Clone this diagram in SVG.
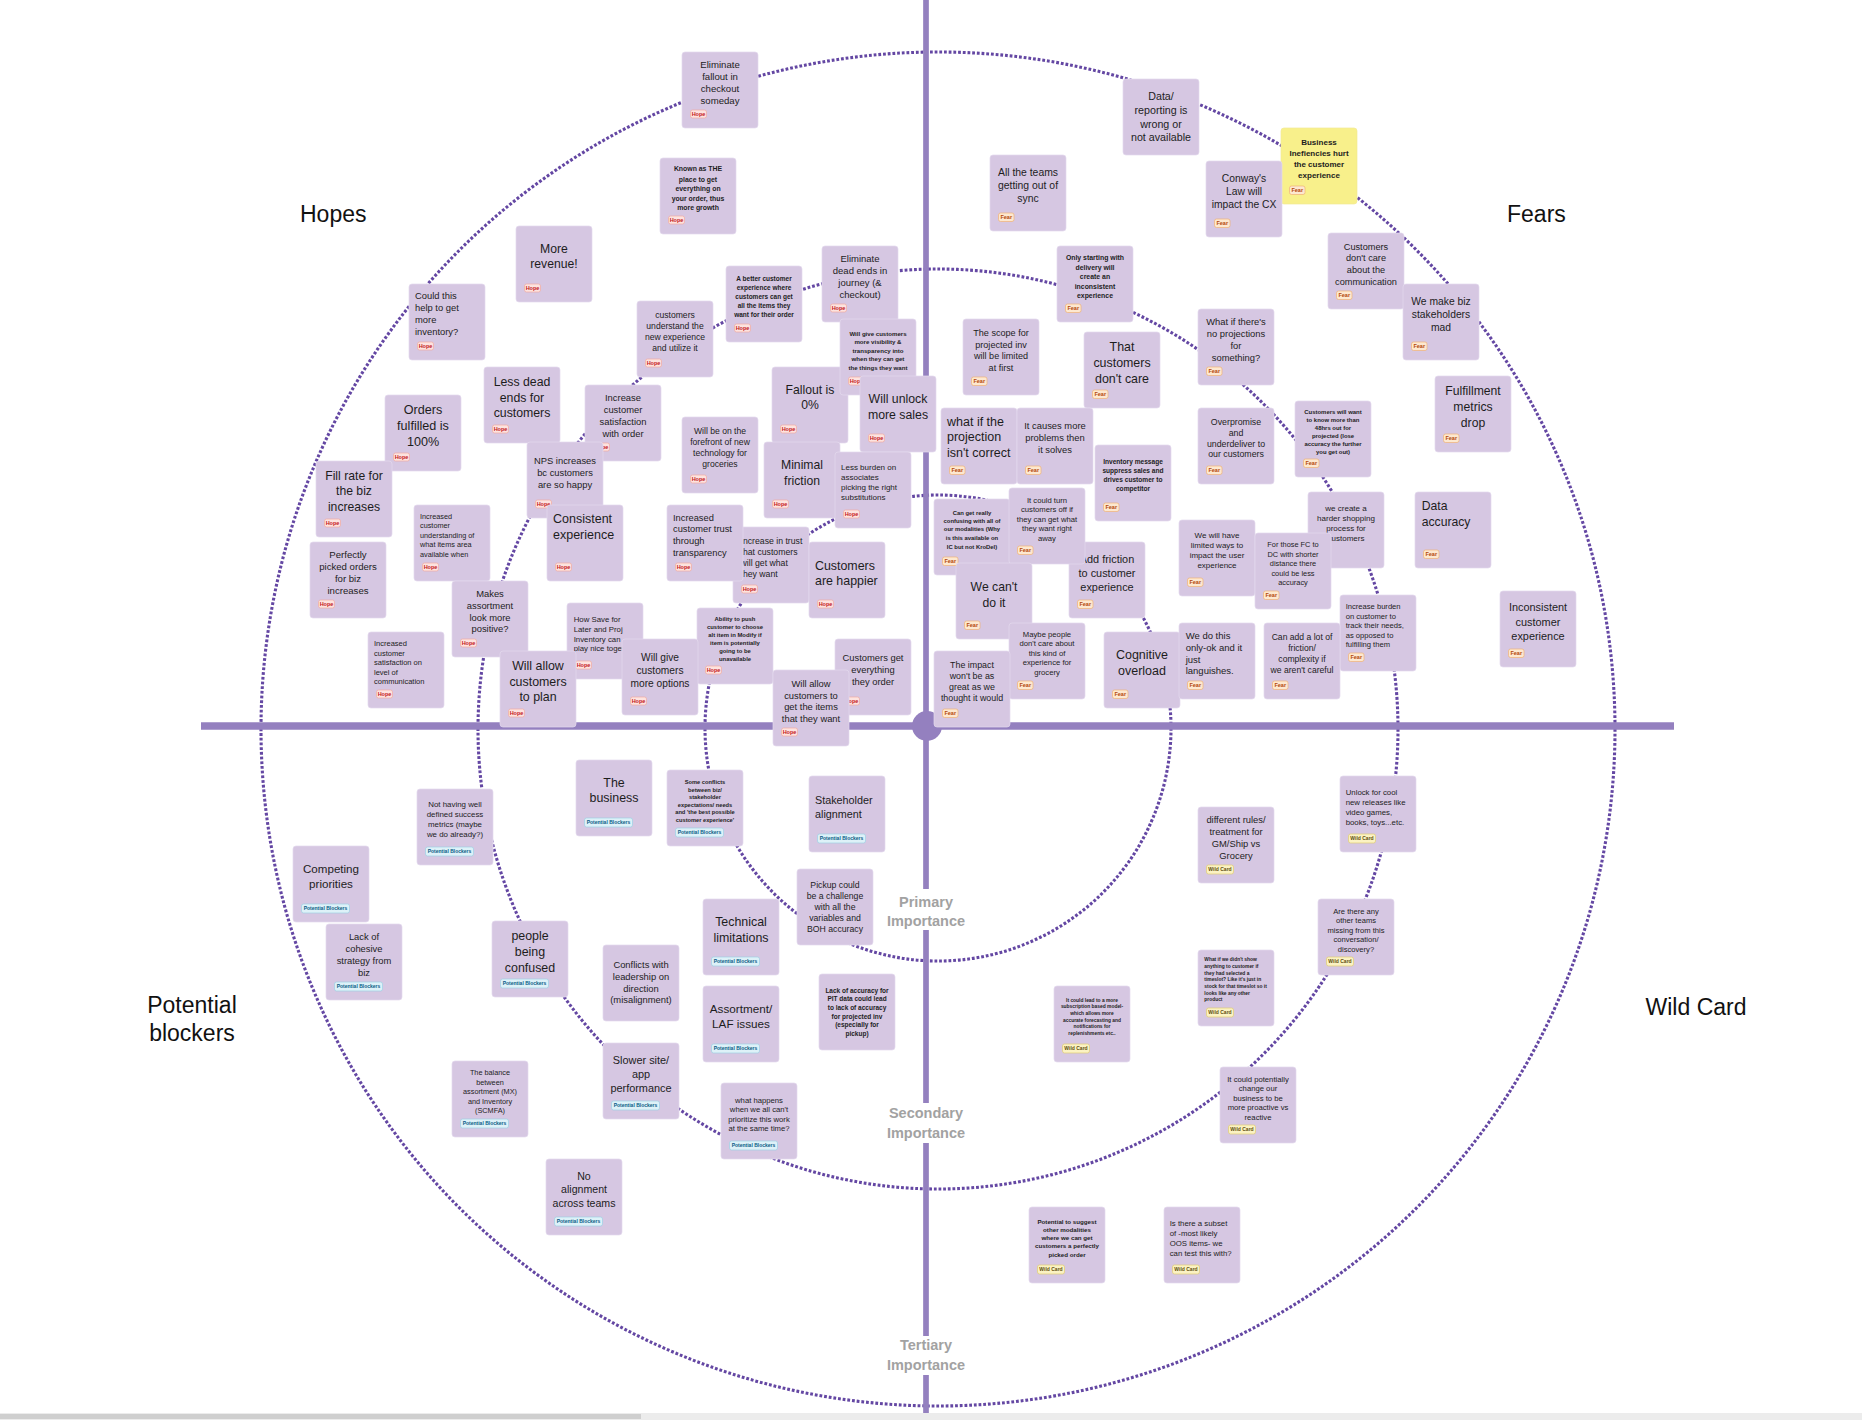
<svg xmlns="http://www.w3.org/2000/svg" width="1862" height="1420" viewBox="0 0 1862 1420">
<style>
.dc{fill:none;stroke:#6447a3;stroke-width:3.1;stroke-dasharray:2.8 1.9}
.ax{stroke:#9480bf;fill:none}
.nb{fill:#d6c7e2;stroke:#e4daee;stroke-width:.7}
.ny{fill:#f8f08b;stroke:#f2ea95;stroke-width:.7}
.t{font-family:"Liberation Sans",Arial,sans-serif;fill:#1d1d1d}
.c{text-anchor:middle}
.b{font-weight:bold}
.q{font-family:"Liberation Sans",Arial,sans-serif;font-size:23px;fill:#111}
.imp{font-family:"Liberation Sans",Arial,sans-serif;font-size:14.5px;font-weight:bold;fill:#a2a2a2;text-anchor:middle}
.tg text{font-family:"Liberation Sans",Arial,sans-serif;font-weight:bold;text-anchor:middle}
.hp rect{fill:#fde3df;stroke:#f0aaa0;stroke-width:.7}
.hp text{fill:#c4161c;font-size:5.5px}
.fr rect{fill:#fde8cf;stroke:#efb276;stroke-width:.7}
.fr text{fill:#b3470c;font-size:5.5px}
.pb rect{fill:#ddf1f8;stroke:#9dd0e4;stroke-width:.7}
.pb text{fill:#0b5d86;font-size:5px}
.wc rect{fill:#fbf2c2;stroke:#e0cd72;stroke-width:.7}
.wc text{fill:#5e4c0c;font-size:5px}
</style>
<rect width="1862" height="1420" fill="#ffffff"/>
<g id="rings">
<circle class="dc" cx="938" cy="729" r="677"/>
<circle class="dc" cx="938" cy="729" r="460"/>
<circle class="dc" cx="938" cy="728" r="233"/>
</g>
<g id="axes">
<line class="ax" x1="201" y1="726" x2="1674" y2="726" stroke-width="7.5"/>
<line class="ax" x1="926" y1="0" x2="926" y2="889" stroke-width="5.7"/>
<line class="ax" x1="926" y1="930" x2="926" y2="1103" stroke-width="5.7"/>
<line class="ax" x1="926" y1="1143" x2="926" y2="1336" stroke-width="5.7"/>
<line class="ax" x1="926" y1="1375" x2="926" y2="1413" stroke-width="5.7"/>
<circle cx="927" cy="726" r="15" fill="#9480bf"/>
</g>
<g id="labels">
<text class="q" x="300" y="222">Hopes</text>
<text class="q" x="1507" y="222">Fears</text>
<text class="q" x="192" y="1013" text-anchor="middle">Potential</text>
<text class="q" x="192" y="1041" text-anchor="middle">blockers</text>
<text class="q" x="1696" y="1015" text-anchor="middle">Wild Card</text>
<text class="imp" x="926" y="907">Primary</text><text class="imp" x="926" y="926">Importance</text>
<text class="imp" x="926" y="1118">Secondary</text><text class="imp" x="926" y="1138">Importance</text>
<text class="imp" x="926" y="1350">Tertiary</text><text class="imp" x="926" y="1370">Importance</text>
</g>
<g id="notes">
<g id="n08" transform="translate(682,52)"><rect class="nb" width="76" height="76" rx="3"/><text class="t c" font-size="9.6"><tspan x="38" y="16">Eliminate</tspan><tspan x="38" y="28">fallout in</tspan><tspan x="38" y="40">checkout</tspan><tspan x="38" y="52">someday</tspan></text><g class="tg hp" transform="translate(8.5,58)"><rect width="16" height="8" rx="2"/><text x="8" y="5.9">Hope</text></g></g>
<g id="n09" transform="translate(660,158)"><rect class="nb" width="76" height="76" rx="3"/><text class="t c b" font-size="6.9"><tspan x="38" y="13.4">Known as THE</tspan><tspan x="38" y="23.7">place to get</tspan><tspan x="38" y="33.1">everything on</tspan><tspan x="38" y="42.7">your order, thus</tspan><tspan x="38" y="51.7">more growth</tspan></text><g class="tg hp" transform="translate(8.5,58)"><rect width="16" height="8" rx="2"/><text x="8" y="5.9">Hope</text></g></g>
<g id="n01" transform="translate(516,226)"><rect class="nb" width="76" height="76" rx="3"/><text class="t c" font-size="12.2"><tspan x="38" y="27">More</tspan><tspan x="38" y="42">revenue!</tspan></text><g class="tg hp" transform="translate(8.5,58)"><rect width="16" height="8" rx="2"/><text x="8" y="5.9">Hope</text></g></g>
<g id="n02" transform="translate(409,284)"><rect class="nb" width="76" height="76" rx="3"/><text class="t" font-size="9.4"><tspan x="6" y="15">Could this</tspan><tspan x="6" y="27.3">help to get</tspan><tspan x="6" y="39.3">more</tspan><tspan x="6" y="51.3">inventory?</tspan></text><g class="tg hp" transform="translate(8.5,58)"><rect width="16" height="8" rx="2"/><text x="8" y="5.9">Hope</text></g></g>
<g id="n11" transform="translate(726,266)"><rect class="nb" width="76" height="76" rx="3"/><text class="t c b" font-size="6.5"><tspan x="38" y="15">A better customer</tspan><tspan x="38" y="24">experience where</tspan><tspan x="38" y="33">customers can get</tspan><tspan x="38" y="42">all the items they</tspan><tspan x="38" y="51">want for their order</tspan></text><g class="tg hp" transform="translate(8.5,58)"><rect width="16" height="8" rx="2"/><text x="8" y="5.9">Hope</text></g></g>
<g id="n10" transform="translate(822,246)"><rect class="nb" width="76" height="76" rx="3"/><text class="t c" font-size="9.5"><tspan x="38" y="16">Eliminate</tspan><tspan x="38" y="28">dead ends in</tspan><tspan x="38" y="40">journey (&amp;</tspan><tspan x="38" y="52">checkout)</tspan></text><g class="tg hp" transform="translate(8.5,58)"><rect width="16" height="8" rx="2"/><text x="8" y="5.9">Hope</text></g></g>
<g id="n12" transform="translate(637,301)"><rect class="nb" width="76" height="76" rx="3"/><text class="t c" font-size="8.6"><tspan x="38" y="17">customers</tspan><tspan x="38" y="28">understand the</tspan><tspan x="38" y="39">new experience</tspan><tspan x="38" y="50">and utilize it</tspan></text><g class="tg hp" transform="translate(8.5,58)"><rect width="16" height="8" rx="2"/><text x="8" y="5.9">Hope</text></g></g>
<g id="n14" transform="translate(772,367)"><rect class="nb" width="76" height="76" rx="3"/><text class="t c" font-size="12.2"><tspan x="38" y="27.3">Fallout is</tspan><tspan x="38" y="42">0%</tspan></text><g class="tg hp" transform="translate(8.5,58)"><rect width="16" height="8" rx="2"/><text x="8" y="5.9">Hope</text></g></g>
<g id="n13" transform="translate(840,319)"><rect class="nb" width="76" height="76" rx="3"/><text class="t c b" font-size="6.1"><tspan x="38" y="16.8">Will give customers</tspan><tspan x="38" y="25.1">more visibility &amp;</tspan><tspan x="38" y="33.8">transparency into</tspan><tspan x="38" y="42.1">when they can get</tspan><tspan x="38" y="50.8">the things they want</tspan></text><g class="tg hp" transform="translate(8.5,58)"><rect width="16" height="8" rx="2"/><text x="8" y="5.9">Hope</text></g></g>
<g id="n15" transform="translate(860,376)"><rect class="nb" width="76" height="76" rx="3"/><text class="t c" font-size="12.3"><tspan x="38" y="27.3">Will unlock</tspan><tspan x="38" y="43">more sales</tspan></text><g class="tg hp" transform="translate(8.5,58)"><rect width="16" height="8" rx="2"/><text x="8" y="5.9">Hope</text></g></g>
<g id="n03" transform="translate(484,367)"><rect class="nb" width="76" height="76" rx="3"/><text class="t c" font-size="12.3"><tspan x="38" y="19">Less dead</tspan><tspan x="38" y="34.6">ends for</tspan><tspan x="38" y="50">customers</tspan></text><g class="tg hp" transform="translate(8.5,58)"><rect width="16" height="8" rx="2"/><text x="8" y="5.9">Hope</text></g></g>
<g id="n06" transform="translate(585,385)"><rect class="nb" width="76" height="76" rx="3"/><text class="t c" font-size="9.4"><tspan x="38" y="16">Increase</tspan><tspan x="38" y="28">customer</tspan><tspan x="38" y="40">satisfaction</tspan><tspan x="38" y="52">with order</tspan></text><g class="tg hp" transform="translate(8.5,58)"><rect width="16" height="8" rx="2"/><text x="8" y="5.9">Hope</text></g></g>
<g id="n04" transform="translate(385,395)"><rect class="nb" width="76" height="76" rx="3"/><text class="t c" font-size="12.6"><tspan x="38" y="18.7">Orders</tspan><tspan x="38" y="35">fulfilled is</tspan><tspan x="38" y="50.6">100%</tspan></text><g class="tg hp" transform="translate(8.5,58)"><rect width="16" height="8" rx="2"/><text x="8" y="5.9">Hope</text></g></g>
<g id="n05" transform="translate(316,461)"><rect class="nb" width="76" height="76" rx="3"/><text class="t c" font-size="12.2"><tspan x="38" y="19">Fill rate for</tspan><tspan x="38" y="34">the biz</tspan><tspan x="38" y="50">increases</tspan></text><g class="tg hp" transform="translate(8.5,58)"><rect width="16" height="8" rx="2"/><text x="8" y="5.9">Hope</text></g></g>
<g id="n07" transform="translate(527,442)"><rect class="nb" width="76" height="76" rx="3"/><text class="t c" font-size="9.4"><tspan x="38" y="22">NPS increases</tspan><tspan x="38" y="34">bc customers</tspan><tspan x="38" y="46.3">are so happy</tspan></text><g class="tg hp" transform="translate(8.5,58)"><rect width="16" height="8" rx="2"/><text x="8" y="5.9">Hope</text></g></g>
<g id="n16" transform="translate(682,417)"><rect class="nb" width="76" height="76" rx="3"/><text class="t c" font-size="8.6"><tspan x="38" y="17">Will be on the</tspan><tspan x="38" y="28">forefront of new</tspan><tspan x="38" y="39">technology for</tspan><tspan x="38" y="50">groceries</tspan></text><g class="tg hp" transform="translate(8.5,58)"><rect width="16" height="8" rx="2"/><text x="8" y="5.9">Hope</text></g></g>
<g id="n17" transform="translate(764,442)"><rect class="nb" width="76" height="76" rx="3"/><text class="t c" font-size="12.2"><tspan x="38" y="27.3">Minimal</tspan><tspan x="38" y="43">friction</tspan></text><g class="tg hp" transform="translate(8.5,58)"><rect width="16" height="8" rx="2"/><text x="8" y="5.9">Hope</text></g></g>
<g id="n18" transform="translate(835,452)"><rect class="nb" width="76" height="76" rx="3"/><text class="t" font-size="8"><tspan x="6" y="18.1">Less burden on</tspan><tspan x="6" y="28.1">associates</tspan><tspan x="6" y="38.1">picking the right</tspan><tspan x="6" y="48.1">substitutions</tspan></text><g class="tg hp" transform="translate(8.5,58)"><rect width="16" height="8" rx="2"/><text x="8" y="5.9">Hope</text></g></g>
<g id="n36" transform="translate(414,505)"><rect class="nb" width="76" height="76" rx="3"/><text class="t" font-size="7.3"><tspan x="6" y="13.6">Increased</tspan><tspan x="6" y="23.3">customer</tspan><tspan x="6" y="32.6">understanding of</tspan><tspan x="6" y="41.9">what items area</tspan><tspan x="6" y="51.6">available when</tspan></text><g class="tg hp" transform="translate(8.5,58)"><rect width="16" height="8" rx="2"/><text x="8" y="5.9">Hope</text></g></g>
<g id="n37" transform="translate(547,505)"><rect class="nb" width="76" height="76" rx="3"/><text class="t" font-size="12.5"><tspan x="6" y="18.1">Consistent</tspan><tspan x="6" y="34.1">experience</tspan></text><g class="tg hp" transform="translate(8.5,58)"><rect width="16" height="8" rx="2"/><text x="8" y="5.9">Hope</text></g></g>
<g id="n46" transform="translate(733,527)"><rect class="nb" width="76" height="76" rx="3"/><text class="t" font-size="8.7"><tspan x="7.5" y="16.7">Increase in trust</tspan><tspan x="7.5" y="28">that customers</tspan><tspan x="7.5" y="39.3">will get what</tspan><tspan x="7.5" y="50">they want</tspan></text><g class="tg hp" transform="translate(8.5,58)"><rect width="16" height="8" rx="2"/><text x="8" y="5.9">Hope</text></g></g>
<g id="n45" transform="translate(667,505)"><rect class="nb" width="76" height="76" rx="3"/><text class="t" font-size="9.3"><tspan x="6" y="16">Increased</tspan><tspan x="6" y="27.3">customer trust</tspan><tspan x="6" y="39.3">through</tspan><tspan x="6" y="51.3">transparency</tspan></text><g class="tg hp" transform="translate(8.5,58)"><rect width="16" height="8" rx="2"/><text x="8" y="5.9">Hope</text></g></g>
<g id="n47" transform="translate(809,542)"><rect class="nb" width="76" height="76" rx="3"/><text class="t" font-size="12.4"><tspan x="6" y="28">Customers</tspan><tspan x="6" y="43">are happier</tspan></text><g class="tg hp" transform="translate(8.5,58)"><rect width="16" height="8" rx="2"/><text x="8" y="5.9">Hope</text></g></g>
<g id="n35" transform="translate(310,542)"><rect class="nb" width="76" height="76" rx="3"/><text class="t c" font-size="9.6"><tspan x="38" y="16">Perfectly</tspan><tspan x="38" y="28">picked orders</tspan><tspan x="38" y="40">for biz</tspan><tspan x="38" y="52">increases</tspan></text><g class="tg hp" transform="translate(8.5,58)"><rect width="16" height="8" rx="2"/><text x="8" y="5.9">Hope</text></g></g>
<g id="n38" transform="translate(452,581)"><rect class="nb" width="76" height="76" rx="3"/><text class="t c" font-size="9.4"><tspan x="38" y="16">Makes</tspan><tspan x="38" y="28">assortment</tspan><tspan x="38" y="40">look more</tspan><tspan x="38" y="51.3">positive?</tspan></text><g class="tg hp" transform="translate(8.5,58)"><rect width="16" height="8" rx="2"/><text x="8" y="5.9">Hope</text></g></g>
<g id="n40" transform="translate(567,603)"><rect class="nb" width="76" height="76" rx="3"/><text class="t" font-size="7.8"><tspan x="6.7" y="18.7">How Save for</tspan><tspan x="6.7" y="28.7">Later and Proj</tspan><tspan x="6.7" y="38.7">Inventory can</tspan><tspan x="6.7" y="48">play nice together</tspan></text><g class="tg hp" transform="translate(8.5,58)"><rect width="16" height="8" rx="2"/><text x="8" y="5.9">Hope</text></g></g>
<g id="n48" transform="translate(697,608)"><rect class="nb" width="76" height="76" rx="3"/><text class="t c b" font-size="5.9"><tspan x="38" y="13.1">Ability to push</tspan><tspan x="38" y="21.1">customer to choose</tspan><tspan x="38" y="29.1">alt item in Modify if</tspan><tspan x="38" y="37.1">item is potentially</tspan><tspan x="38" y="45.1">going to be</tspan><tspan x="38" y="53.1">unavailable</tspan></text><g class="tg hp" transform="translate(8.5,58)"><rect width="16" height="8" rx="2"/><text x="8" y="5.9">Hope</text></g></g>
<g id="n39" transform="translate(368,632)"><rect class="nb" width="76" height="76" rx="3"/><text class="t" font-size="7.5"><tspan x="6" y="13.6">Increased</tspan><tspan x="6" y="23.6">customer</tspan><tspan x="6" y="32.9">satisfaction on</tspan><tspan x="6" y="42.6">level of</tspan><tspan x="6" y="51.9">communication</tspan></text><g class="tg hp" transform="translate(8.5,58)"><rect width="16" height="8" rx="2"/><text x="8" y="5.9">Hope</text></g></g>
<g id="n41" transform="translate(500,651)"><rect class="nb" width="76" height="76" rx="3"/><text class="t c" font-size="12.4"><tspan x="38" y="19">Will allow</tspan><tspan x="38" y="35">customers</tspan><tspan x="38" y="50">to plan</tspan></text><g class="tg hp" transform="translate(8.5,58)"><rect width="16" height="8" rx="2"/><text x="8" y="5.9">Hope</text></g></g>
<g id="n49" transform="translate(622,639)"><rect class="nb" width="76" height="76" rx="3"/><text class="t c" font-size="10.2"><tspan x="38" y="21.6">Will give</tspan><tspan x="38" y="34.6">customers</tspan><tspan x="38" y="47.6">more options</tspan></text><g class="tg hp" transform="translate(8.5,58)"><rect width="16" height="8" rx="2"/><text x="8" y="5.9">Hope</text></g></g>
<g id="n50" transform="translate(835,639)"><rect class="nb" width="76" height="76" rx="3"/><text class="t c" font-size="9.4"><tspan x="38" y="22">Customers get</tspan><tspan x="38" y="34.3">everything</tspan><tspan x="38" y="46">they order</tspan></text><g class="tg hp" transform="translate(8.5,58)"><rect width="16" height="8" rx="2"/><text x="8" y="5.9">Hope</text></g></g>
<g id="n51" transform="translate(773,670)"><rect class="nb" width="76" height="76" rx="3"/><text class="t c" font-size="9.4"><tspan x="38" y="17">Will allow</tspan><tspan x="38" y="29.3">customers to</tspan><tspan x="38" y="40.3">get the items</tspan><tspan x="38" y="52">that they want</tspan></text><g class="tg hp" transform="translate(8.5,58)"><rect width="16" height="8" rx="2"/><text x="8" y="5.9">Hope</text></g></g>

<g id="n19" transform="translate(1123,79)"><rect class="nb" width="76" height="76" rx="3"/><text class="t c" font-size="10.7"><tspan x="38" y="20.7">Data/</tspan><tspan x="38" y="35">reporting is</tspan><tspan x="38" y="49">wrong or</tspan><tspan x="38" y="61.7">not available</tspan></text></g>
<g id="n20" transform="translate(990,155)"><rect class="nb" width="76" height="76" rx="3"/><text class="t c" font-size="10.4"><tspan x="38" y="21.3">All the teams</tspan><tspan x="38" y="34.3">getting out of</tspan><tspan x="38" y="47.3">sync</tspan></text><g class="tg fr" transform="translate(8.5,58)"><rect width="15.5" height="8.5" rx="2"/><text x="7.75" y="6.2">Fear</text></g></g>
<g id="n30" transform="translate(1281,128)"><rect class="ny" width="76" height="76" rx="3"/><text class="t c b" font-size="8"><tspan x="38" y="16.8">Business</tspan><tspan x="38" y="27.8">Inefiencies hurt</tspan><tspan x="38" y="38.8">the customer</tspan><tspan x="38" y="49.8">experience</tspan></text><g class="tg fr" transform="translate(8.5,58)"><rect width="15.5" height="8.5" rx="2"/><text x="7.75" y="6.2">Fear</text></g></g>
<g id="n21" transform="translate(1206,161)"><rect class="nb" width="76" height="76" rx="3"/><text class="t c" font-size="10.3"><tspan x="38" y="21.3">Conway's</tspan><tspan x="38" y="34.3">Law will</tspan><tspan x="38" y="47.3">impact the CX</tspan></text><g class="tg fr" transform="translate(8.5,58)"><rect width="15.5" height="8.5" rx="2"/><text x="7.75" y="6.2">Fear</text></g></g>
<g id="n31" transform="translate(1328,233)"><rect class="nb" width="76" height="76" rx="3"/><text class="t c" font-size="9.2"><tspan x="38" y="16.9">Customers</tspan><tspan x="38" y="27.9">don't care</tspan><tspan x="38" y="39.9">about the</tspan><tspan x="38" y="51.9">communication</tspan></text><g class="tg fr" transform="translate(8.5,58)"><rect width="15.5" height="8.5" rx="2"/><text x="7.75" y="6.2">Fear</text></g></g>
<g id="n22" transform="translate(1057,246)"><rect class="nb" width="76" height="76" rx="3"/><text class="t c b" font-size="6.9"><tspan x="38" y="13.7">Only starting with</tspan><tspan x="38" y="23.7">delivery will</tspan><tspan x="38" y="32.7">create an</tspan><tspan x="38" y="42.7">inconsistent</tspan><tspan x="38" y="51.7">experience</tspan></text><g class="tg fr" transform="translate(8.5,58)"><rect width="15.5" height="8.5" rx="2"/><text x="7.75" y="6.2">Fear</text></g></g>
<g id="n32" transform="translate(1403,284)"><rect class="nb" width="76" height="76" rx="3"/><text class="t c" font-size="10.3"><tspan x="38" y="20.9">We make biz</tspan><tspan x="38" y="34.3">stakeholders</tspan><tspan x="38" y="47.3">mad</tspan></text><g class="tg fr" transform="translate(8.5,58)"><rect width="15.5" height="8.5" rx="2"/><text x="7.75" y="6.2">Fear</text></g></g>
<g id="n23" transform="translate(963,319)"><rect class="nb" width="76" height="76" rx="3"/><text class="t c" font-size="9.1"><tspan x="38" y="16.9">The scope for</tspan><tspan x="38" y="28.9">projected inv</tspan><tspan x="38" y="39.9">will be limited</tspan><tspan x="38" y="51.9">at first</tspan></text><g class="tg fr" transform="translate(8.5,58)"><rect width="15.5" height="8.5" rx="2"/><text x="7.75" y="6.2">Fear</text></g></g>
<g id="n24" transform="translate(1084,332)"><rect class="nb" width="76" height="76" rx="3"/><text class="t c" font-size="12.4"><tspan x="38" y="19">That</tspan><tspan x="38" y="35">customers</tspan><tspan x="38" y="51">don't care</tspan></text><g class="tg fr" transform="translate(8.5,58)"><rect width="15.5" height="8.5" rx="2"/><text x="7.75" y="6.2">Fear</text></g></g>
<g id="n25" transform="translate(1198,309)"><rect class="nb" width="76" height="76" rx="3"/><text class="t c" font-size="9.4"><tspan x="38" y="16">What if there's</tspan><tspan x="38" y="28">no projections</tspan><tspan x="38" y="40">for</tspan><tspan x="38" y="52">something?</tspan></text><g class="tg fr" transform="translate(8.5,58)"><rect width="15.5" height="8.5" rx="2"/><text x="7.75" y="6.2">Fear</text></g></g>
<g id="n33" transform="translate(1435,376)"><rect class="nb" width="76" height="76" rx="3"/><text class="t c" font-size="12.2"><tspan x="38" y="19">Fulfillment</tspan><tspan x="38" y="35">metrics</tspan><tspan x="38" y="51">drop</tspan></text><g class="tg fr" transform="translate(8.5,58)"><rect width="15.5" height="8.5" rx="2"/><text x="7.75" y="6.2">Fear</text></g></g>
<g id="n26" transform="translate(941,408)"><rect class="nb" width="76" height="76" rx="3"/><text class="t" font-size="12.5"><tspan x="6" y="18.1">what if the</tspan><tspan x="6" y="33.4">projection</tspan><tspan x="6" y="49.1">isn't correct</tspan></text><g class="tg fr" transform="translate(8.5,58)"><rect width="15.5" height="8.5" rx="2"/><text x="7.75" y="6.2">Fear</text></g></g>
<g id="n27" transform="translate(1017,408)"><rect class="nb" width="76" height="76" rx="3"/><text class="t c" font-size="9.4"><tspan x="38" y="21">It causes more</tspan><tspan x="38" y="33">problems then</tspan><tspan x="38" y="45">it solves</tspan></text><g class="tg fr" transform="translate(8.5,58)"><rect width="15.5" height="8.5" rx="2"/><text x="7.75" y="6.2">Fear</text></g></g>
<g id="n29" transform="translate(1198,408)"><rect class="nb" width="76" height="76" rx="3"/><text class="t c" font-size="8.8"><tspan x="38" y="17">Overpromise</tspan><tspan x="38" y="28">and</tspan><tspan x="38" y="39">underdeliver to</tspan><tspan x="38" y="49">our customers</tspan></text><g class="tg fr" transform="translate(8.5,58)"><rect width="15.5" height="8.5" rx="2"/><text x="7.75" y="6.2">Fear</text></g></g>
<g id="n34" transform="translate(1295,401)"><rect class="nb" width="76" height="76" rx="3"/><text class="t c b" font-size="5.95"><tspan x="38" y="12.8">Customers will want</tspan><tspan x="38" y="20.8">to know more than</tspan><tspan x="38" y="28.8">48hrs out for</tspan><tspan x="38" y="36.8">projected (lose</tspan><tspan x="38" y="45.1">accuracy the further</tspan><tspan x="38" y="53.1">you get out)</tspan></text><g class="tg fr" transform="translate(8.5,58)"><rect width="15.5" height="8.5" rx="2"/><text x="7.75" y="6.2">Fear</text></g></g>
<g id="n28" transform="translate(1095,445)"><rect class="nb" width="76" height="76" rx="3"/><text class="t c b" font-size="6.6"><tspan x="38" y="19">Inventory message</tspan><tspan x="38" y="28">suppress sales and</tspan><tspan x="38" y="37">drives customer to</tspan><tspan x="38" y="46">competitor</tspan></text><g class="tg fr" transform="translate(8.5,58)"><rect width="15.5" height="8.5" rx="2"/><text x="7.75" y="6.2">Fear</text></g></g>
<g id="n55" transform="translate(934,499)"><rect class="nb" width="76" height="76" rx="3"/><text class="t c b" font-size="5.9"><tspan x="38" y="15.8">Can get really</tspan><tspan x="38" y="23.8">confusing with all of</tspan><tspan x="38" y="32.4">our modalities (Why</tspan><tspan x="38" y="40.8">is this available on</tspan><tspan x="38" y="49.8">IC but not KroDel)</tspan></text><g class="tg fr" transform="translate(8.5,58)"><rect width="15.5" height="8.5" rx="2"/><text x="7.75" y="6.2">Fear</text></g></g>
<g id="n57" transform="translate(1069,542)"><rect class="nb" width="76" height="76" rx="3"/><text class="t c" font-size="10.9"><tspan x="38" y="21.1">Add friction</tspan><tspan x="38" y="35.1">to customer</tspan><tspan x="38" y="49.1">experience</tspan></text><g class="tg fr" transform="translate(8.5,58)"><rect width="15.5" height="8.5" rx="2"/><text x="7.75" y="6.2">Fear</text></g></g>
<g id="n56" transform="translate(1009,488)"><rect class="nb" width="76" height="76" rx="3"/><text class="t c" font-size="7.7"><tspan x="38" y="15">It could turn</tspan><tspan x="38" y="24">customers off if</tspan><tspan x="38" y="34">they can get what</tspan><tspan x="38" y="43.4">they want right</tspan><tspan x="38" y="53.4">away</tspan></text><g class="tg fr" transform="translate(8.5,58)"><rect width="15.5" height="8.5" rx="2"/><text x="7.75" y="6.2">Fear</text></g></g>
<g id="n58" transform="translate(956,563)"><rect class="nb" width="76" height="76" rx="3"/><text class="t c" font-size="12.2"><tspan x="38" y="28">We can't</tspan><tspan x="38" y="44">do it</tspan></text><g class="tg fr" transform="translate(8.5,58)"><rect width="15.5" height="8.5" rx="2"/><text x="7.75" y="6.2">Fear</text></g></g>
<g id="n59" transform="translate(1009,623)"><rect class="nb" width="76" height="76" rx="3"/><text class="t c" font-size="7.7"><tspan x="38" y="14">Maybe people</tspan><tspan x="38" y="23">don't care about</tspan><tspan x="38" y="32.7">this kind of</tspan><tspan x="38" y="42">experience for</tspan><tspan x="38" y="52">grocery</tspan></text><g class="tg fr" transform="translate(8.5,58)"><rect width="15.5" height="8.5" rx="2"/><text x="7.75" y="6.2">Fear</text></g></g>
<g id="n60" transform="translate(934,651)"><rect class="nb" width="76" height="76" rx="3"/><text class="t c" font-size="8.9"><tspan x="38" y="17">The impact</tspan><tspan x="38" y="28">won't be as</tspan><tspan x="38" y="39">great as we</tspan><tspan x="38" y="50">thought it would</tspan></text><g class="tg fr" transform="translate(8.5,58)"><rect width="15.5" height="8.5" rx="2"/><text x="7.75" y="6.2">Fear</text></g></g>
<g id="n61" transform="translate(1104,632)"><rect class="nb" width="76" height="76" rx="3"/><text class="t c" font-size="12.5"><tspan x="38" y="27">Cognitive</tspan><tspan x="38" y="43">overload</tspan></text><g class="tg fr" transform="translate(8.5,58)"><rect width="15.5" height="8.5" rx="2"/><text x="7.75" y="6.2">Fear</text></g></g>
<g id="n62" transform="translate(1179,520)"><rect class="nb" width="76" height="76" rx="3"/><text class="t c" font-size="8"><tspan x="38" y="18.1">We will have</tspan><tspan x="38" y="28.1">limited ways to</tspan><tspan x="38" y="38.1">impact the  user</tspan><tspan x="38" y="48.1">experience</tspan></text><g class="tg fr" transform="translate(8.5,58)"><rect width="15.5" height="8.5" rx="2"/><text x="7.75" y="6.2">Fear</text></g></g>
<g id="n63" transform="translate(1179,623)"><rect class="nb" width="76" height="76" rx="3"/><text class="t" font-size="9.5"><tspan x="6.7" y="16">We do this</tspan><tspan x="6.7" y="28">only-ok and it</tspan><tspan x="6.7" y="40">just</tspan><tspan x="6.7" y="51">languishes.</tspan></text><g class="tg fr" transform="translate(8.5,58)"><rect width="15.5" height="8.5" rx="2"/><text x="7.75" y="6.2">Fear</text></g></g>
<g id="n65" transform="translate(1308,492)"><rect class="nb" width="76" height="76" rx="3"/><text class="t c" font-size="8"><tspan x="38" y="19.1">we create a</tspan><tspan x="38" y="29.1">harder shopping</tspan><tspan x="38" y="39.1">process for</tspan><tspan x="38" y="49.1">customers</tspan></text></g>
<g id="n66" transform="translate(1255,533)"><rect class="nb" width="76" height="76" rx="3"/><text class="t c" font-size="7.4"><tspan x="38" y="13.9">For those FC to</tspan><tspan x="38" y="23.9">DC with shorter</tspan><tspan x="38" y="32.9">distance there</tspan><tspan x="38" y="42.9">could be less</tspan><tspan x="38" y="52.3">accuracy</tspan></text><g class="tg fr" transform="translate(8.5,58)"><rect width="15.5" height="8.5" rx="2"/><text x="7.75" y="6.2">Fear</text></g></g>
<g id="n67" transform="translate(1415,492)"><rect class="nb" width="76" height="76" rx="3"/><text class="t" font-size="12.2"><tspan x="6.7" y="18.3">Data</tspan><tspan x="6.7" y="34.3">accuracy</tspan></text><g class="tg fr" transform="translate(8.5,58)"><rect width="15.5" height="8.5" rx="2"/><text x="7.75" y="6.2">Fear</text></g></g>
<g id="n68" transform="translate(1340,595)"><rect class="nb" width="76" height="76" rx="3"/><text class="t" font-size="7.6"><tspan x="5.7" y="14">Increase burden</tspan><tspan x="5.7" y="24">on customer to</tspan><tspan x="5.7" y="33">track their needs,</tspan><tspan x="5.7" y="43">as opposed to</tspan><tspan x="5.7" y="52">fulfilling them</tspan></text><g class="tg fr" transform="translate(8.5,58)"><rect width="15.5" height="8.5" rx="2"/><text x="7.75" y="6.2">Fear</text></g></g>
<g id="n69" transform="translate(1264,623)"><rect class="nb" width="76" height="76" rx="3"/><text class="t c" font-size="8.6"><tspan x="38" y="17">Can add a lot of</tspan><tspan x="38" y="28">friction/</tspan><tspan x="38" y="39.3">complexity if</tspan><tspan x="38" y="50.3">we aren't careful</tspan></text><g class="tg fr" transform="translate(8.5,58)"><rect width="15.5" height="8.5" rx="2"/><text x="7.75" y="6.2">Fear</text></g></g>
<g id="n70" transform="translate(1500,591)"><rect class="nb" width="76" height="76" rx="3"/><text class="t c" font-size="10.9"><tspan x="38" y="20.1">Inconsistent</tspan><tspan x="38" y="34.5">customer</tspan><tspan x="38" y="48.5">experience</tspan></text><g class="tg fr" transform="translate(8.5,58)"><rect width="15.5" height="8.5" rx="2"/><text x="7.75" y="6.2">Fear</text></g></g>

<g id="n43" transform="translate(576,760)"><rect class="nb" width="76" height="76" rx="3"/><text class="t c" font-size="12.4"><tspan x="38" y="26.6">The</tspan><tspan x="38" y="42">business</tspan></text><g class="tg pb" transform="translate(8.5,58)"><rect width="48" height="9" rx="2"/><text x="24" y="6.4">Potential Blockers</text></g></g>
<g id="n52" transform="translate(667,770)"><rect class="nb" width="76" height="76" rx="3"/><text class="t c b" font-size="5.7"><tspan x="38" y="14">Some conflicts</tspan><tspan x="38" y="22">between biz/</tspan><tspan x="38" y="29">stakeholder</tspan><tspan x="38" y="37">expectations/ needs</tspan><tspan x="38" y="44">and 'the best possible</tspan><tspan x="38" y="52">customer experience'</tspan></text><g class="tg pb" transform="translate(8.5,58)"><rect width="48" height="9" rx="2"/><text x="24" y="6.4">Potential Blockers</text></g></g>
<g id="n53" transform="translate(809,776)"><rect class="nb" width="76" height="76" rx="3"/><text class="t" font-size="10.8"><tspan x="6" y="27.8">Stakeholder</tspan><tspan x="6" y="42.1">alignment</tspan></text><g class="tg pb" transform="translate(8.5,58)"><rect width="48" height="9" rx="2"/><text x="24" y="6.4">Potential Blockers</text></g></g>
<g id="n42" transform="translate(417,789)"><rect class="nb" width="76" height="76" rx="3"/><text class="t c" font-size="7.9"><tspan x="38" y="17.8">Not having well</tspan><tspan x="38" y="27.8">defined success</tspan><tspan x="38" y="37.8">metrics (maybe</tspan><tspan x="38" y="47.8">we do already?)</tspan></text><g class="tg pb" transform="translate(8.5,58)"><rect width="48" height="9" rx="2"/><text x="24" y="6.4">Potential Blockers</text></g></g>
<g id="n44" transform="translate(293,846)"><rect class="nb" width="76" height="76" rx="3"/><text class="t c" font-size="11.6"><tspan x="38" y="27">Competing</tspan><tspan x="38" y="42">priorities</tspan></text><g class="tg pb" transform="translate(8.5,58)"><rect width="48" height="9" rx="2"/><text x="24" y="6.4">Potential Blockers</text></g></g>
<g id="n72" transform="translate(326,924)"><rect class="nb" width="76" height="76" rx="3"/><text class="t c" font-size="9.4"><tspan x="38" y="16">Lack of</tspan><tspan x="38" y="28">cohesive</tspan><tspan x="38" y="40">strategy from</tspan><tspan x="38" y="52">biz</tspan></text><g class="tg pb" transform="translate(8.5,58)"><rect width="48" height="9" rx="2"/><text x="24" y="6.4">Potential Blockers</text></g></g>
<g id="n73" transform="translate(492,921)"><rect class="nb" width="76" height="76" rx="3"/><text class="t c" font-size="12.4"><tspan x="38" y="19.3">people</tspan><tspan x="38" y="35.3">being</tspan><tspan x="38" y="51">confused</tspan></text><g class="tg pb" transform="translate(8.5,58)"><rect width="48" height="9" rx="2"/><text x="24" y="6.4">Potential Blockers</text></g></g>
<g id="n76" transform="translate(603,945)"><rect class="nb" width="76" height="76" rx="3"/><text class="t c" font-size="9.4"><tspan x="38" y="23">Conflicts with</tspan><tspan x="38" y="35">leadership on</tspan><tspan x="38" y="47">direction</tspan><tspan x="38" y="58.3">(misalignment)</tspan></text></g>
<g id="n78" transform="translate(703,899)"><rect class="nb" width="76" height="76" rx="3"/><text class="t c" font-size="12.4"><tspan x="38" y="27">Technical</tspan><tspan x="38" y="42.6">limitations</tspan></text><g class="tg pb" transform="translate(8.5,58)"><rect width="48" height="9" rx="2"/><text x="24" y="6.4">Potential Blockers</text></g></g>
<g id="n54" transform="translate(797,869)"><rect class="nb" width="76" height="76" rx="3"/><text class="t c" font-size="8.7"><tspan x="38" y="19">Pickup could</tspan><tspan x="38" y="30">be a challenge</tspan><tspan x="38" y="41">with all the</tspan><tspan x="38" y="52">variables and</tspan><tspan x="38" y="63">BOH accuracy</tspan></text></g>
<g id="n79" transform="translate(703,986)"><rect class="nb" width="76" height="76" rx="3"/><text class="t c" font-size="11.7"><tspan x="38" y="27.1">Assortment/</tspan><tspan x="38" y="42.1">LAF issues</tspan></text><g class="tg pb" transform="translate(8.5,58)"><rect width="48" height="9" rx="2"/><text x="24" y="6.4">Potential Blockers</text></g></g>
<g id="n80" transform="translate(819,974)"><rect class="nb" width="76" height="76" rx="3"/><text class="t c b" font-size="6.5"><tspan x="38" y="19">Lack of accuracy for</tspan><tspan x="38" y="27">PIT data could lead</tspan><tspan x="38" y="36">to lack of accuracy</tspan><tspan x="38" y="45">for projected inv</tspan><tspan x="38" y="53">(especially for</tspan><tspan x="38" y="62">pickup)</tspan></text></g>
<g id="n77" transform="translate(603,1043)"><rect class="nb" width="76" height="76" rx="3"/><text class="t c" font-size="10.9"><tspan x="38" y="20.8">Slower site/</tspan><tspan x="38" y="35.1">app</tspan><tspan x="38" y="49.1">performance</tspan></text><g class="tg pb" transform="translate(8.5,58)"><rect width="48" height="9" rx="2"/><text x="24" y="6.4">Potential Blockers</text></g></g>
<g id="n74" transform="translate(452,1061)"><rect class="nb" width="76" height="76" rx="3"/><text class="t c" font-size="7.3"><tspan x="38" y="13.6">The balance</tspan><tspan x="38" y="23.9">between</tspan><tspan x="38" y="32.9">assortment (MX)</tspan><tspan x="38" y="42.9">and Inventory</tspan><tspan x="38" y="51.9">(SCMFA)</tspan></text><g class="tg pb" transform="translate(8.5,58)"><rect width="48" height="9" rx="2"/><text x="24" y="6.4">Potential Blockers</text></g></g>
<g id="n81" transform="translate(721,1083)"><rect class="nb" width="76" height="76" rx="3"/><text class="t c" font-size="7.7"><tspan x="38" y="20">what happens</tspan><tspan x="38" y="29">when we all can't</tspan><tspan x="38" y="39">prioritize this work</tspan><tspan x="38" y="48">at the same time?</tspan></text><g class="tg pb" transform="translate(8.5,58)"><rect width="48" height="9" rx="2"/><text x="24" y="6.4">Potential Blockers</text></g></g>
<g id="n75" transform="translate(546,1159)"><rect class="nb" width="76" height="76" rx="3"/><text class="t c" font-size="10.6"><tspan x="38" y="20.7">No</tspan><tspan x="38" y="34">alignment</tspan><tspan x="38" y="48">across teams</tspan></text><g class="tg pb" transform="translate(8.5,58)"><rect width="48" height="9" rx="2"/><text x="24" y="6.4">Potential Blockers</text></g></g>

<g id="n71" transform="translate(1340,776)"><rect class="nb" width="76" height="76" rx="3"/><text class="t" font-size="7.8"><tspan x="5.7" y="19">Unlock for cool</tspan><tspan x="5.7" y="29">new releases like</tspan><tspan x="5.7" y="39">video games,</tspan><tspan x="5.7" y="49">books, toys...etc.</tspan></text><g class="tg wc" transform="translate(8.5,58)"><rect width="27" height="9" rx="2"/><text x="13.5" y="6.4">Wild Card</text></g></g>
<g id="n64" transform="translate(1198,807)"><rect class="nb" width="76" height="76" rx="3"/><text class="t c" font-size="9.4"><tspan x="38" y="16">different rules/</tspan><tspan x="38" y="28">treatment for</tspan><tspan x="38" y="40">GM/Ship vs</tspan><tspan x="38" y="52">Grocery</tspan></text><g class="tg wc" transform="translate(8.5,58)"><rect width="27" height="9" rx="2"/><text x="13.5" y="6.4">Wild Card</text></g></g>
<g id="n87" transform="translate(1318,899)"><rect class="nb" width="76" height="76" rx="3"/><text class="t c" font-size="7.6"><tspan x="38" y="15">Are there any</tspan><tspan x="38" y="24">other teams</tspan><tspan x="38" y="34">missing from this</tspan><tspan x="38" y="43.4">conversation/</tspan><tspan x="38" y="52.7">discovery?</tspan></text><g class="tg wc" transform="translate(8.5,58)"><rect width="27" height="9" rx="2"/><text x="13.5" y="6.4">Wild Card</text></g></g>
<g id="n83" transform="translate(1198,950)"><rect class="nb" width="76" height="76" rx="3"/><text class="t b" font-size="4.9"><tspan x="6.3" y="10.8">What if we didn't show</tspan><tspan x="6.3" y="17.8">anything to customer if</tspan><tspan x="6.3" y="24.8">they had selected a</tspan><tspan x="6.3" y="31">timeslot? Like it's just in</tspan><tspan x="6.3" y="38">stock for that timeslot so it</tspan><tspan x="6.3" y="45">looks like any other</tspan><tspan x="6.3" y="51.4">product</tspan></text><g class="tg wc" transform="translate(8.5,58)"><rect width="27" height="9" rx="2"/><text x="13.5" y="6.4">Wild Card</text></g></g>
<g id="n82" transform="translate(1054,986)"><rect class="nb" width="76" height="76" rx="3"/><text class="t c b" font-size="4.9"><tspan x="38" y="16">It could lead to a more</tspan><tspan x="38" y="22.4">subscription based model-</tspan><tspan x="38" y="29">which allows more</tspan><tspan x="38" y="36">accurate forecasting and</tspan><tspan x="38" y="42.4">notifications for</tspan><tspan x="38" y="49">replenishments etc..</tspan></text><g class="tg wc" transform="translate(8.5,58)"><rect width="27" height="9" rx="2"/><text x="13.5" y="6.4">Wild Card</text></g></g>
<g id="n84" transform="translate(1220,1067)"><rect class="nb" width="76" height="76" rx="3"/><text class="t c" font-size="7.7"><tspan x="38" y="15">It could potentially</tspan><tspan x="38" y="24.4">change our</tspan><tspan x="38" y="34">business to be</tspan><tspan x="38" y="43.4">more proactive vs</tspan><tspan x="38" y="53">reactive</tspan></text><g class="tg wc" transform="translate(8.5,58)"><rect width="27" height="9" rx="2"/><text x="13.5" y="6.4">Wild Card</text></g></g>
<g id="n85" transform="translate(1029,1207)"><rect class="nb" width="76" height="76" rx="3"/><text class="t c b" font-size="6.2"><tspan x="38" y="16.9">Potential to suggest</tspan><tspan x="38" y="24.9">other modalities</tspan><tspan x="38" y="32.9">where we can get</tspan><tspan x="38" y="40.9">customers a perfectly</tspan><tspan x="38" y="49.9">picked order</tspan></text><g class="tg wc" transform="translate(8.5,58)"><rect width="27" height="9" rx="2"/><text x="13.5" y="6.4">Wild Card</text></g></g>
<g id="n86" transform="translate(1164,1207)"><rect class="nb" width="76" height="76" rx="3"/><text class="t" font-size="7.8"><tspan x="5.7" y="18.7">Is there a subset</tspan><tspan x="5.7" y="28.7">of -most likely</tspan><tspan x="5.7" y="38.7">OOS items- we</tspan><tspan x="5.7" y="49">can test this with?</tspan></text><g class="tg wc" transform="translate(8.5,58)"><rect width="27" height="9" rx="2"/><text x="13.5" y="6.4">Wild Card</text></g></g>
</g>
<rect x="0" y="1413" width="1862" height="7" fill="#ececec"/>
<rect x="0" y="1414" width="641" height="5" fill="#cfcfcf"/>
</svg>
